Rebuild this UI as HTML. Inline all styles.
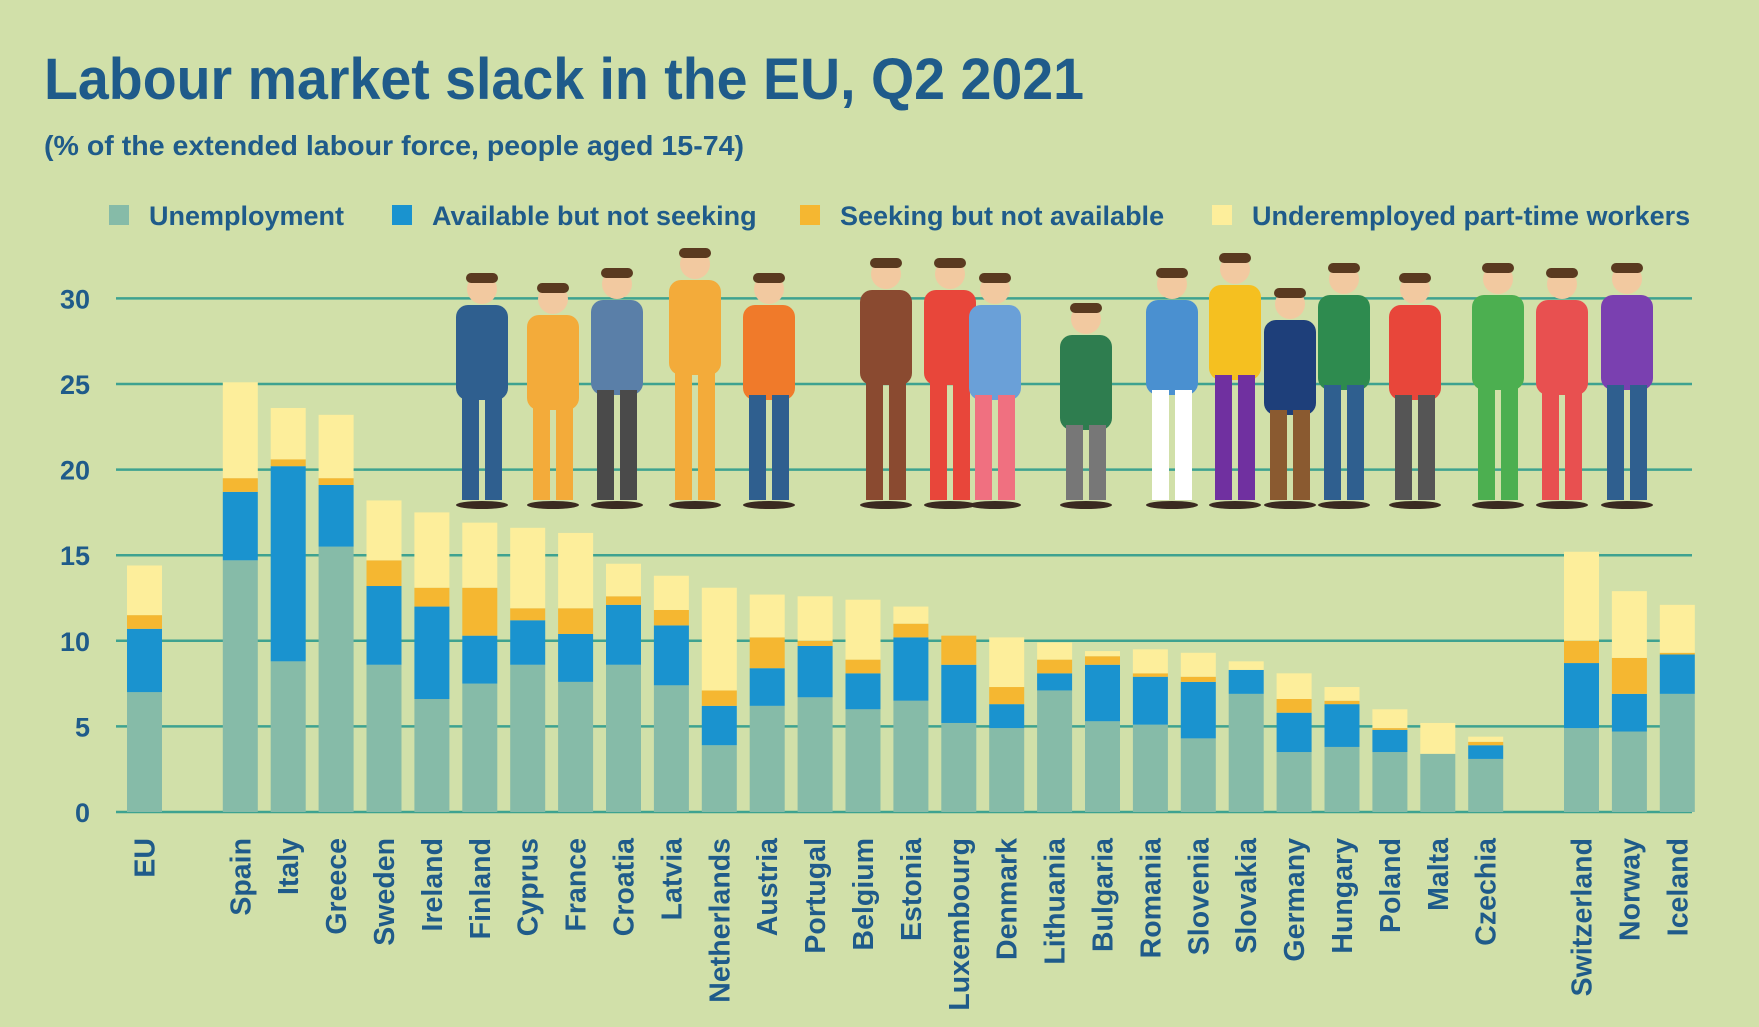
<!DOCTYPE html>
<html><head><meta charset="utf-8"><style>
html,body{margin:0;padding:0;background:#d1e0a9;}
svg{display:block;font-family:"Liberation Sans",sans-serif;font-weight:bold;}
</style></head><body>
<svg id="chart" width="1759" height="1027" viewBox="0 0 1759 1027">
<rect width="1759" height="1027" fill="#d1e0a9"/>
<text x="44" y="99" font-size="58" fill="#1f5b8a" textLength="1040" lengthAdjust="spacingAndGlyphs">Labour market slack in the EU, Q2 2021</text>
<text x="44" y="155" font-size="28" fill="#1f5b8a" textLength="700" lengthAdjust="spacingAndGlyphs">(% of the extended labour force, people aged 15-74)</text>
<g id="legend"></g>
<g id="grid"></g>
<g id="people"></g>
<g id="bars"></g>
<g id="xlabels"></g>
</svg>
<script>
const categories=["EU","","Spain","Italy","Greece","Sweden","Ireland","Finland","Cyprus","France","Croatia","Latvia","Netherlands","Austria","Portugal","Belgium","Estonia","Luxembourg","Denmark","Lithuania","Bulgaria","Romania","Slovenia","Slovakia","Germany","Hungary","Poland","Malta","Czechia","","Switzerland","Norway","Iceland"];
const unemployment=[7.0,null,14.7,8.8,15.5,8.6,6.6,7.5,8.6,7.6,8.6,7.4,3.9,6.2,6.7,6.0,6.5,5.2,4.9,7.1,5.3,5.1,4.3,6.9,3.5,3.8,3.5,3.4,3.1,null,4.9,4.7,6.9];
const availableNotSeeking=[3.7,null,4.0,11.4,3.6,4.6,5.4,2.8,2.6,2.8,3.5,3.5,2.3,2.2,3.0,2.1,3.7,3.4,1.4,1.0,3.3,2.8,3.3,1.4,2.3,2.5,1.3,0,0.8,null,3.8,2.2,2.3];
const seekingNotAvailable=[0.8,null,0.8,0.4,0.4,1.5,1.1,2.8,0.7,1.5,0.5,0.9,0.9,1.8,0.3,0.8,0.8,1.7,1.0,0.8,0.5,0.2,0.3,0,0.8,0.2,0.1,0,0.2,null,1.3,2.1,0.1];
const underemployed=[2.9,null,5.6,3.0,3.7,3.5,4.4,3.8,4.7,4.4,1.9,2.0,6.0,2.5,2.6,3.5,1.0,0.0,2.9,1.0,0.3,1.4,1.4,0.5,1.5,0.8,1.1,1.8,0.3,null,5.2,3.9,2.8];
const yTicks=[0,5,10,15,20,25,30];
const seriesNames=["Unemployment","Available but not seeking","Seeking but not available","Underemployed part-time workers"];
const colors=["#86bba8","#1a93cf","#f5b731","#fdee9b"];
const NS="http://www.w3.org/2000/svg";
const y0=812, pxPerUnit=17.12, x0=127, step=47.9, bw=35;
const yScale=v=>y0-v*pxPerUnit;
const xScale=i=>x0+i*step;
function mk(tag,attrs,parent){const e=document.createElementNS(NS,tag);for(const k in attrs)e.setAttribute(k,attrs[k]);parent.appendChild(e);return e;}
const grid=document.getElementById('grid');
yTicks.forEach(t=>{
  const l=mk('line',{x1:116,x2:1692,y1:yScale(t),y2:yScale(t),stroke:"#3ea290","stroke-width":2.5},grid);
  
  
  const tx=mk('text',{x:90,y:yScale(t)+10,"text-anchor":"end","font-size":27,fill:"#1f5b8a"},grid);
  tx.textContent=t;
  
  
});
// decorative people (simplified)
const ppl=document.getElementById('people');
const figs=[[482,"#2f5f8f","#2f5f8f",275],[553,"#f3ab3a","#f3ab3a",285],[617,"#5a7fa8","#4a4a4a",270],[695,"#f3ab3a","#f3ab3a",250],[769,"#f07a2a","#2f5f8f",275],[886,"#8a4a30","#8a4a30",260],[950,"#e8463a","#e8463a",260],[995,"#6aa0d8","#f07080",275],[1086,"#2e7d4f","#777",305],[1172,"#4a90d0","#ffffff",270],[1235,"#f5c020","#7030a0",255],[1290,"#1e3f7a","#8a5a30",290],[1344,"#2e8b4f","#2f5f8f",265],[1415,"#e8463a","#555",275],[1498,"#4caf50","#4caf50",265],[1562,"#e85050","#e85050",270],[1627,"#7a40b0","#2f5f8f",265]];
figs.forEach((f,i)=>{
  const g=mk('g',{},ppl);
  
  
  const [cx,top,leg,hy]=f;
  mk('circle',{cx:cx,cy:hy+14,r:15,fill:"#f2c9a0"},g);
  mk('rect',{x:cx-16,y:hy-2,width:32,height:10,rx:5,fill:"#5a3a20"},g);
  mk('rect',{x:cx-26,y:hy+30,width:52,height:95,rx:12,fill:top},g);
  mk('rect',{x:cx-20,y:hy+120,width:17,height:380-hy+120-120,fill:leg},g);
  mk('rect',{x:cx+3,y:hy+120,width:17,height:380-hy+120-120,fill:leg},g);
  mk('ellipse',{cx:cx,cy:505,rx:26,ry:4,fill:"#3a2a20"},g);
});
const lg=document.getElementById('legend');
const lx=[109,392,800,1212];
seriesNames.forEach((n,i)=>{
  const r=mk('rect',{x:lx[i],y:205,width:20,height:20,fill:colors[i]},lg);
  
  
  const t=mk('text',{x:lx[i]+40,y:225,"font-size":27,fill:"#1f5b8a"},lg);
  t.textContent=n;
  
  
});
const bars=document.getElementById('bars'), xl=document.getElementById('xlabels');
const series=[unemployment,availableNotSeeking,seekingNotAvailable,underemployed];
categories.forEach((c,i)=>{
  if(!c)return;
  let acc=0;const x=xScale(i);
  series.forEach((s,k)=>{
    const v=s[i]||0;
    if(v>0){
      const r=mk('rect',{x:x,y:yScale(acc+v),width:bw,height:v*pxPerUnit,fill:colors[k]},bars);
      
      
    }
    acc+=v;
  });
  const cx=x+bw/2+10;
  const t=mk('text',{x:cx,y:838,"text-anchor":"end","font-size":28.5,fill:"#1f5b8a",transform:`rotate(-90 ${cx} 838)`},xl);
  t.textContent=c;
  
  
});
</script>
</body></html>
